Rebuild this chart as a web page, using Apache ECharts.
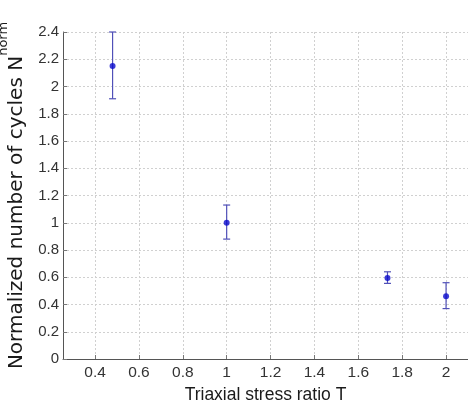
<!DOCTYPE html>
<html>
<head>
<meta charset="utf-8">
<script src="https://cdn.jsdelivr.net/npm/echarts@6/dist/echarts.min.js"></script>
<style>
html,body{margin:0;padding:0;background:#fff;}
#chart{width:468px;height:408px;}
</style>
</head>
<body>
<div id="chart"></div>
<script>
const ratioT = [0.48, 1.0, 1.733, 2.0];
const nMean  = [2.15, 1.0, 0.595, 0.46];
const nUpper = [2.40, 1.13, 0.64, 0.56];
const nLower = [1.91, 0.88, 0.555, 0.37];
const xTickValues = [0.4, 0.6, 0.8, 1.0, 1.2, 1.4, 1.6, 1.8, 2.0];
const xTitle = 'Triaxial stress ratio T';
const yTitleMain = 'Normalized number of cycles N';
const yTitleSub = 'norm';

const chart = echarts.init(document.getElementById('chart'), null, {renderer: 'canvas'});
const sans = '"Liberation Sans", Arial, sans-serif';

const errData = ratioT.map((x, i) => [x, nLower[i], nUpper[i]]);
const ptData = ratioT.map((x, i) => [x, nMean[i]]);

chart.setOption({
  animation: false,
  grid: {left: 63, right: 0, top: 32, bottom: 49, containLabel: false, outerBoundsMode: 'none'},
  xAxis: {
    type: 'value', min: 0.254, max: 2.1,
    name: xTitle, nameLocation: 'middle', nameGap: 23,
    nameTextStyle: {fontFamily: sans, fontSize: 17.5, color: '#1a1a1a'},
    axisLine: {show: true, lineStyle: {color: '#555', width: 1}},
    axisTick: {show: true, inside: true, length: 4, lineStyle: {color: '#777'}, customValues: xTickValues},
    axisLabel: {customValues: xTickValues, fontFamily: sans, fontSize: 15.5, color: '#333', margin: 6,
      formatter: v => String(Math.round(v * 10) / 10)},
    splitLine: {show: true, lineStyle: {color: '#d0d0d0', type: [2, 2], width: 1}}
  },
  yAxis: {
    type: 'value', min: 0, max: 2.4, interval: 0.2,
    name: '{m|' + yTitleMain + '}{s|' + yTitleSub + '}',
    nameLocation: 'middle', nameRotate: 90, nameGap: 27,
    nameTextStyle: {
      rich: {
        m: {fontFamily: '"DejaVu Sans", sans-serif', fontSize: 20, color: '#1a1a1a', lineHeight: 30, verticalAlign: 'bottom'},
        s: {fontFamily: '"DejaVu Sans", sans-serif', fontSize: 13, color: '#1a1a1a', lineHeight: 30, verticalAlign: 'top'}
      }
    },
    axisLine: {show: true, lineStyle: {color: '#555', width: 1}},
    axisTick: {show: true, inside: true, length: 4, lineStyle: {color: '#777'}},
    axisLabel: {fontFamily: sans, fontSize: 15, color: '#333', margin: 4,
      formatter: v => String(Math.round(v * 10) / 10)},
    splitLine: {show: true, lineStyle: {color: '#d0d0d0', type: [2, 2], width: 1}}
  },
  series: [
    {
      type: 'custom',
      data: errData,
      renderItem: function (params, api) {
        const x = api.value(0);
        const lo = api.coord([x, api.value(1)]);
        const hi = api.coord([x, api.value(2)]);
        const hw = 3.5;
        const style = {stroke: '#5050b8', lineWidth: 1.2};
        return {
          type: 'group',
          children: [
            {type: 'line', shape: {x1: lo[0], y1: lo[1], x2: hi[0], y2: hi[1]}, style: style},
            {type: 'line', shape: {x1: hi[0] - hw, y1: hi[1], x2: hi[0] + hw, y2: hi[1]}, style: style},
            {type: 'line', shape: {x1: lo[0] - hw, y1: lo[1], x2: lo[0] + hw, y2: lo[1]}, style: style}
          ]
        };
      },
      z: 2
    },
    {
      type: 'scatter',
      data: ptData,
      symbol: 'circle',
      symbolSize: 6,
      itemStyle: {color: '#0a0acc'},
      z: 3
    }
  ]
});
</script>
</body>
</html>
